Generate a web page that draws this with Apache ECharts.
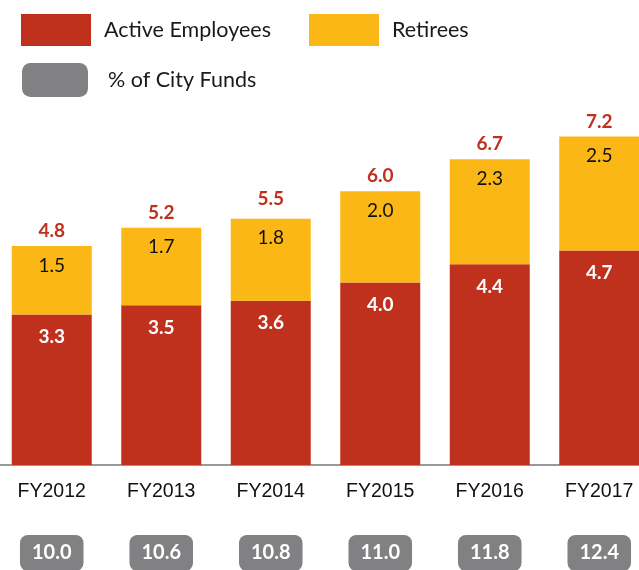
<!DOCTYPE html>
<html>
<head>
<meta charset="utf-8">
<script src="https://cdn.jsdelivr.net/npm/echarts@6/dist/echarts.min.js"></script>
<style>
  html, body { margin: 0; padding: 0; background: #fff; }
  #chart { width: 639px; height: 570px; }
</style>
</head>
<body>
<div id="chart"></div>
<script>
// Health benefit costs by fiscal year ($ billions) and share of City funds (%)
const categories = ['FY2012', 'FY2013', 'FY2014', 'FY2015', 'FY2016', 'FY2017'];
const activeEmployees = [3.3, 3.5, 3.6, 4.0, 4.4, 4.7];
const retirees = [1.5, 1.7, 1.8, 2.0, 2.3, 2.5];
const totals = [4.8, 5.2, 5.5, 6.0, 6.7, 7.2];
const pctCityFunds = ['10.0', '10.6', '10.8', '11.0', '11.8', '12.4'];

const RED = '#BF311D';
const YELLOW = '#FBB715';
const GREY = '#818184';
const FONT = 'Lato, "Open Sans", sans-serif';

const chart = echarts.init(document.getElementById('chart'), null, { renderer: 'canvas' });

chart.setOption({
  animation: false,
  backgroundColor: '#ffffff',
  textStyle: { fontFamily: FONT },
  grid: {
    left: -3, width: 657, top: 100, bottom: 105,
    containLabel: false, outerBoundsMode: 'none'
  },
  legend: [
    {
      left: 21, top: 14, padding: 0, itemWidth: 70, itemHeight: 32, itemGap: 38, icon: 'rect',
      data: ['Active Employees', 'Retirees'],
      textStyle: { fontSize: 21.5, color: '#1a1a1a', fontFamily: FONT, padding: [0, 0, 0, 8] },
      selectedMode: false
    },
    {
      left: 22, top: 63, padding: 0, itemWidth: 66, itemHeight: 34, icon: 'roundRect',
      data: ['% of City Funds'],
      textStyle: { fontSize: 21.5, color: '#1a1a1a', fontFamily: FONT, padding: [0, 0, 0, 15] },
      selectedMode: false
    }
  ],
  xAxis: {
    type: 'category',
    data: categories,
    axisLine: { show: true, lineStyle: { color: '#999999', width: 2 } },
    axisTick: { show: false },
    axisLabel: {
      interval: 0,
      margin: 16,
      formatter: function (value, idx) {
        return '{fy|' + value + '}\n{gap|}\n{box|' + pctCityFunds[idx] + '}';
      },
      rich: {
        fy: { fontSize: 19.5, color: '#111111', fontFamily: '"Liberation Sans", Arial, sans-serif', lineHeight: 22 },
        gap: { lineHeight: 40 },
        box: {
          fontSize: 20, fontWeight: 'bold', color: '#ffffff', fontFamily: FONT,
          backgroundColor: GREY, borderRadius: 8,
          padding: [8, 12, 8, 12], lineHeight: 20
        }
      }
    }
  },
  yAxis: { type: 'value', min: 0, max: 8, show: false, splitLine: { show: false } },
  series: [
    {
      name: 'Active Employees',
      type: 'bar',
      stack: 'cost',
      barWidth: 80,
      data: activeEmployees,
      itemStyle: { color: RED },
      label: {
        show: true, position: 'insideTop', distance: 13,
        color: '#ffffff', fontSize: 19, fontWeight: 'bold', fontFamily: FONT,
        formatter: p => p.value.toFixed(1)
      }
    },
    {
      name: 'Retirees',
      type: 'bar',
      stack: 'cost',
      barWidth: 80,
      data: retirees,
      itemStyle: { color: YELLOW },
      label: {
        show: true, position: 'insideTop', distance: 10,
        color: '#111111', fontSize: 19, fontFamily: FONT,
        formatter: p => p.value.toFixed(1)
      }
    },
    {
      // legend entry only; the percentages are drawn as boxes under each year
      name: '% of City Funds',
      type: 'bar',
      stack: 'cost',
      barWidth: 80,
      data: [],
      itemStyle: { color: GREY }
    },
    {
      name: 'Total',
      type: 'line',
      data: totals,
      symbol: 'circle',
      symbolSize: 1,
      itemStyle: { color: 'rgba(0,0,0,0)' },
      lineStyle: { color: 'rgba(0,0,0,0)', width: 0 },
      label: {
        show: true, position: 'top', distance: 5,
        color: RED, fontSize: 19, fontWeight: 'bold', fontFamily: FONT,
        formatter: p => p.value.toFixed(1)
      },
      z: 5
    }
  ]
});
</script>
</body>
</html>
